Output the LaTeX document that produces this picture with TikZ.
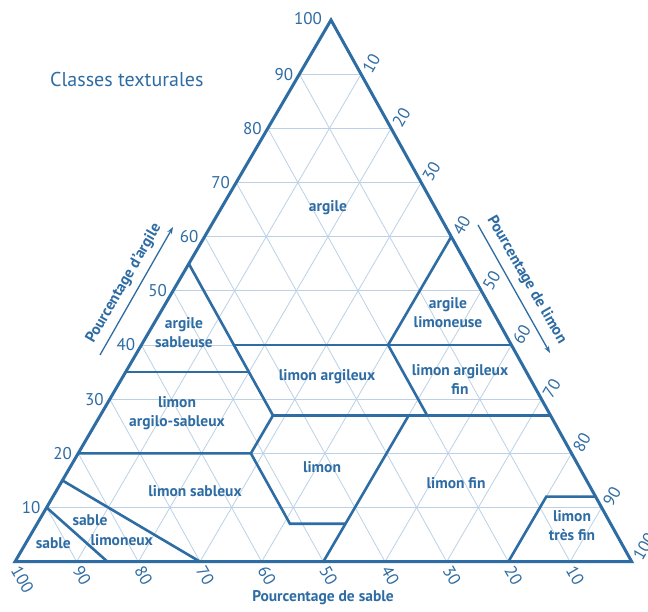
\documentclass[tikz,border=0pt]{standalone}
\usepackage{fontspec}
\setmainfont{PT Sans}
\usetikzlibrary{arrows.meta,calc}
\definecolor{tblue}{HTML}{2E6CA4}
\definecolor{tgrid}{HTML}{BDD1E6}
\begin{document}
\begin{tikzpicture}[x=1pt,y=1pt,
  lbl/.style={text=tblue,font=\bfseries\fontsize{15.5}{19}\selectfont,align=center,inner sep=1pt},
  ticklbl/.style={text=tblue,font=\fontsize{17}{20}\selectfont,inner sep=3pt},
  axtitle/.style={text=tblue,font=\bfseries\fontsize{15.5}{18}\selectfont},
  gridline/.style={draw=tgrid,line width=0.8pt},
  bound/.style={draw=tblue,line width=2.6pt,line join=miter},
  outer/.style={draw=tblue,line width=3pt,line join=miter},
  axarrow/.style={draw=tblue,line width=1.3pt,-{Stealth[length=7pt,width=5pt]}}]
\useasboundingbox (0,0) rectangle (648,612);
\fill[white] (0,0) rectangle (648,612);
\begin{scope}[shift={(15,50.3)}, x={(6.167pt,0pt)}, y={(3.16pt,5.417pt)}]
  % vertices (silt, clay)
  \coordinate (A) at (0,0);
  \coordinate (B) at (100,0);
  \coordinate (C) at (0,100);
  % grid
  \foreach \k in {10,20,...,90} {
    \draw[gridline] (0,\k) -- ({100-\k},\k);
    \draw[gridline] (\k,0) -- (\k,{100-\k});
    \draw[gridline] (\k,0) -- (0,\k);
  }
  % class boundary points
  \coordinate (c10) at (0,10);
  \coordinate (s15) at (15,0);
  \coordinate (c15) at (0,15);
  \coordinate (s30) at (30,0);
  \coordinate (c20) at (0,20);
  \coordinate (p2820) at (28,20);
  \coordinate (p4107) at (41,7);
  \coordinate (p5007) at (50,7);
  \coordinate (s50) at (50,0);
  \coordinate (p5027) at (50,27);
  \coordinate (p2827) at (28,27);
  \coordinate (p7327) at (73,27);
  \coordinate (c55) at (0,55);
  \coordinate (c35) at (0,35);
  \coordinate (p2035) at (20,35);
  \coordinate (p1540) at (15,40);
  \coordinate (p6040) at (60,40);
  \coordinate (p4040) at (40,40);
  \coordinate (p4060) at (40,60);
  \coordinate (p5327) at (53,27);
  \coordinate (p8012) at (80,12);
  \coordinate (p8812) at (88,12);
  \coordinate (s80) at (80,0);
  % boundaries
  \draw[bound] (c10) -- (s15);
  \draw[bound] (c15) -- (s30);
  \draw[bound] (c20) -- (p2820) -- (p4107) -- (p5007);
  \draw[bound] (s50) -- (p5027);
  \draw[bound] (p2820) -- (p2827);
  \draw[bound] (p2827) -- (p7327);
  \draw[bound] (c55) -- (p2827);
  \draw[bound] (c35) -- (p2035);
  \draw[bound] (p1540) -- (p6040);
  \draw[bound] (p4040) -- (p4060);
  \draw[bound] (p4040) -- (p5327);
  \draw[bound] (s80) -- (p8012) -- (p8812);
  \draw[outer] (A) -- (B) -- (C) -- cycle;
  % tick labels
  \foreach \k in {10,20,...,90} {
    \node[ticklbl,anchor=east] (L\k) at ($(0,\k)+(-3pt,0pt)$) {\k};
    \node[ticklbl,anchor=west,rotate=60] (R\k) at ($(\k,{100-\k})+(4pt,0pt)$) {\k};
  }
  \node[ticklbl,anchor=east] (L100) at ($(C)+(-6pt,1pt)$) {100};
  \node[ticklbl,anchor=west,rotate=60] (R100) at ($(B)+(4pt,0pt)$) {100};
  \foreach \k in {10,20,...,100} {
    \node[ticklbl,anchor=west,rotate=-60] (S\k) at ($({100-\k},0)+(-1pt,-3pt)$) {\k};
  }
\end{scope}
% class labels
\node[lbl] (argile) at (328,404) {argile};
\node[lbl] (argsab) at (184,279) {argile\\sableuse};
\node[lbl] (arglim) at (448,299) {argile\\limoneuse};
\node[lbl] (limarg) at (327,235) {limon argileux};
\node[lbl] (limargfin) at (460,233) {limon argileux\\fin};
\node[lbl] (limargsab) at (177,199) {limon\\argilo-sableux};
\node[lbl] (limon) at (322,145) {limon};
\node[lbl] (limsab) at (195,121.3) {limon sableux};
\node[lbl] (limfin) at (456,128.7) {limon fin};
\node[lbl] (limtf) at (572,86) {limon\\très fin};
\node[lbl] (sablim1) at (90,92) {sable};
\node[lbl] (sablim2) at (121.7,72) {limoneux};
\node[lbl] (sable) at (53.3,69.3) {sable};
% titles
\node[text=tblue,font=\fontsize{20}{24}\selectfont,anchor=base west,inner sep=0pt] (title) at (50,525) {Classes texturales};
\node[axtitle,rotate=60] (tclay) at (124,328.5) {Pourcentage d’argile};
\node[axtitle,rotate=-60] (tsilt) at (526.5,332) {Pourcentage de limon};
\node[axtitle] (tsand) at (323,14.3) {Pourcentage de sable};
\coordinate (ca1) at (100,257);
\coordinate (ca2) at (173,385);
\coordinate (sa1) at (478,387);
\coordinate (sa2) at (550,259);
\draw[axarrow] (ca1) -- (ca2);
\draw[axarrow] (sa1) -- (sa2);
\end{tikzpicture}
\end{document}
